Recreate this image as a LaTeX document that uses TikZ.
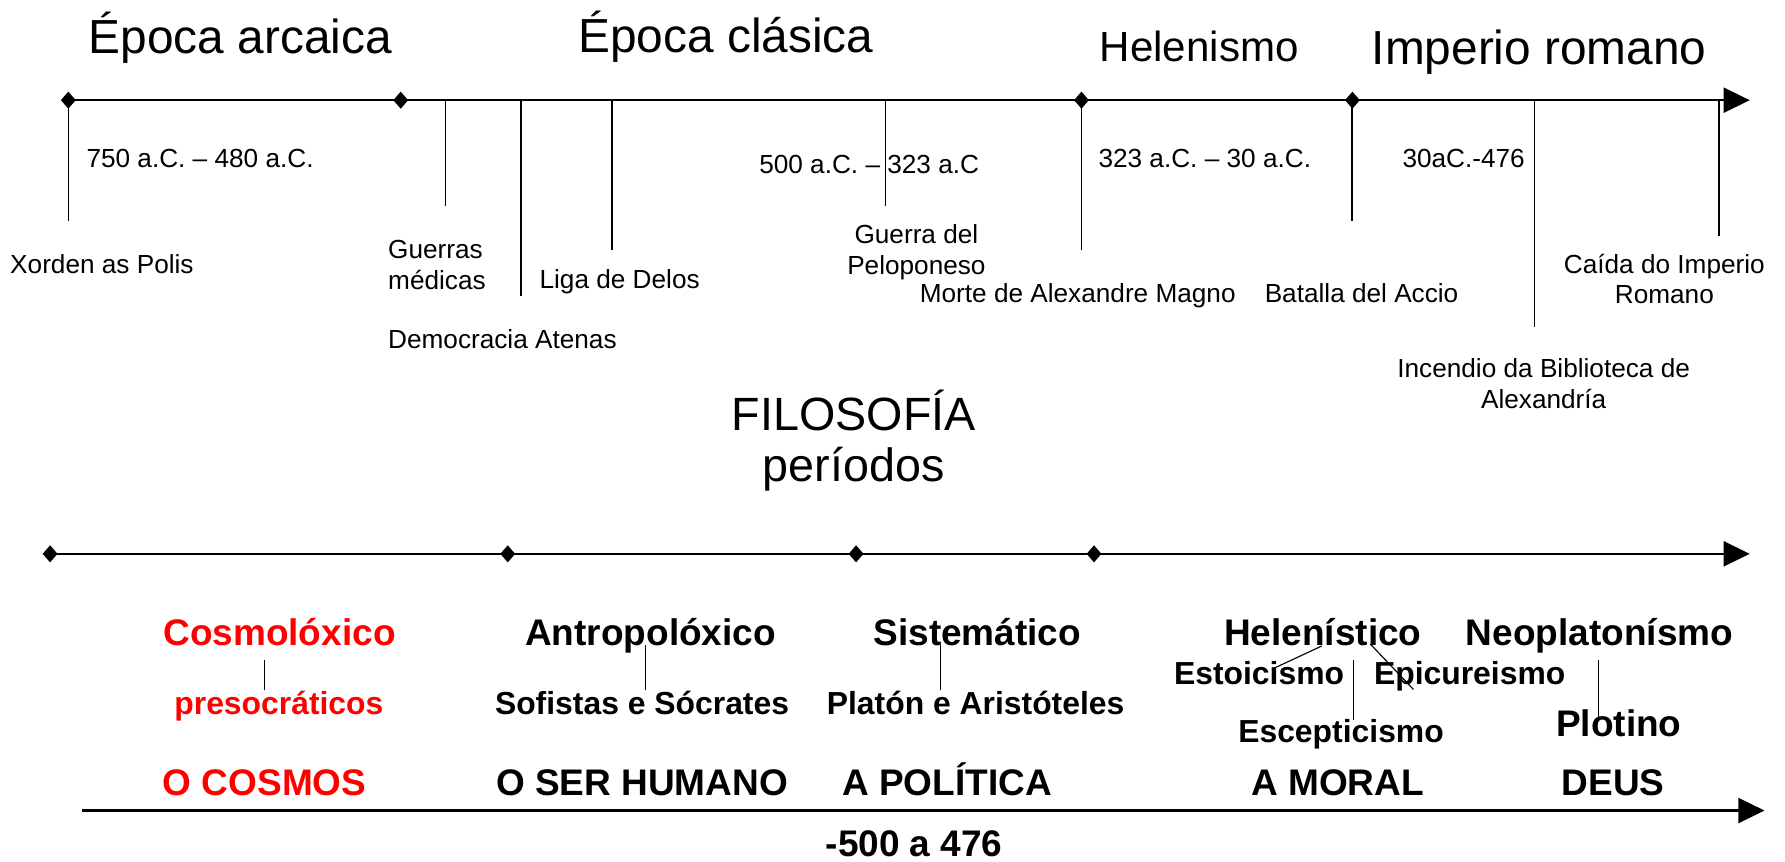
\documentclass[tikz,border=0pt]{standalone}
\usepackage{fontspec}
\setmainfont{Liberation Sans}
\usetikzlibrary{arrows.meta,shapes.geometric}
\definecolor{pred}{RGB}{255,0,0}
\begin{document}
\begin{tikzpicture}[x=1pt,y=-1pt,
  every node/.style={inner sep=0pt,outer sep=0pt},
  ttl/.style={font=\fontsize{42}{48}\selectfont,anchor=base west},
  lbl/.style={font=\fontsize{23}{27}\selectfont,anchor=base west,align=left},
  lblc/.style={font=\fontsize{23}{27}\selectfont,anchor=base,align=center},
  bbig/.style={font=\fontsize{32.5}{38}\selectfont\bfseries,anchor=base},
  bsml/.style={font=\fontsize{28}{33}\selectfont\bfseries,anchor=base},
  axisline/.style={line width=1.9pt,-{Triangle[length=23pt,width=22pt]}},
  tickline/.style={line width=1.4pt},
  conn/.style={line width=1pt},
  dmd/.style={diamond,fill=black,minimum width=13pt,minimum height=15pt,aspect=1}]
\useasboundingbox (0,0) rectangle (1568,757);

% ---------- top timeline ----------
\coordinate (tA) at (60,88);
\coordinate (tZ) at (1537,88);
\draw[axisline] (tA) -- (tZ);
\foreach \n/\x in {d1/60,d2/352,d3/950,d4/1188}
  \node[dmd] (\n) at (\x,88) {};

\foreach \n/\x/\e in {xo/60/194,gm/391.5/181,da/457.7/260,ld/537.5/220,gp/778/181,ma/950/220,ba/1187.5/194,ib/1348/287,ci/1510/207}{
  \coordinate (\n top) at (\x,88);
  \coordinate (\n end) at (\x,\e);
  \draw[tickline] (\n top) -- (\n end);
}

\node[ttl] (arc) at (78,47) {Época arcaica};
\node[ttl] (cla) at (508,46) {Época clásica};
\node[ttl,font=\fontsize{37}{42}\selectfont] (hel) at (966,54) {Helenismo};
\node[ttl] (imp) at (1205,57) {Imperio romano};

\node[lbl] (r1) at (76,147) {750 a.C. – 480 a.C.};
\node[lbl] (r2) at (667,152) {500 a.C. – 323 a.C};
\node[lbl] (r3) at (965,147) {323 a.C. – 30 a.C.};
\node[lbl] (r4) at (1232,147) {30aC.-476};

\node[lbl] (xorden) at (9,240) {Xorden as Polis};
\node[lbl] (guerras) at (341,254) {Guerras\\médicas};
\node[lbl] (liga) at (474,253) {Liga de Delos};
\node[lbl] (demo) at (341,306) {Democracia Atenas};
\node[lblc] (pelop) at (805,241) {Guerra del\\Peloponeso};
\node[lbl] (morte) at (808,266) {Morte de Alexandre Magno};
\node[lbl] (accio) at (1111,266) {Batalla del Accio};
\node[lblc] (caida) at (1462,267) {Caída do Imperio\\Romano};
\node[lblc] (incendio) at (1356,359) {Incendio da Biblioteca de\\Alexandría};

% ---------- title ----------
\node[font=\fontsize{41}{46}\selectfont,anchor=base] (filo) at (750,378) {FILOSOFÍA};
\node[font=\fontsize{41}{46}\selectfont,anchor=base] (per) at (750,423) {períodos};

% ---------- middle timeline ----------
\coordinate (mA) at (44,486.5);
\coordinate (mZ) at (1537,486.5);
\draw[axisline] (mA) -- (mZ);
\foreach \n/\x in {m1/44,m2/446,m3/752,m4/961}
  \node[dmd] (\n) at (\x,486.5) {};

% ---------- bottom labels ----------
\node[bbig,text=pred] (cosmo) at (245.5,567) {Cosmolóxico};
\node[bbig] (antro) at (571.5,567) {Antropolóxico};
\node[bbig] (siste) at (858.5,567) {Sistemático};
\node[bbig] (helen) at (1162,567) {Helenístico};
\node[bbig] (neo) at (1405,567) {Neoplatonísmo};

\node[bsml,text=pred] (preso) at (245,628) {presocráticos};
\node[bsml] (sofi) at (564,628) {Sofistas e Sócrates};
\node[bsml] (plat) at (857,628) {Platón e Aristóteles};
\node[bsml] (esto) at (1106,601.7) {Estoicismo};
\node[bsml] (epic) at (1291,601.7) {Epicureismo};
\node[bsml] (esce) at (1178,652) {Escepticismo};
\node[bbig] (ploti) at (1422,646.6) {Plotino};

\node[bbig,text=pred] (ocos) at (232.5,699) {O COSMOS};
\node[bbig] (oser) at (564,699) {O SER HUMANO};
\node[bbig] (apol) at (832,699) {A POLÍTICA};
\node[bbig] (amor) at (1175,699) {A MORAL};
\node[bbig] (deus) at (1417,699) {DEUS};

\coordinate (bA) at (72,712);
\coordinate (bZ) at (1550,712);
\draw[axisline] (bA) -- (bZ);
\node[bbig] (range) at (803,752) {-500 a 476};

% ---------- small connectors ----------
\coordinate (c1a) at (232,580);   \coordinate (c1b) at (232,606);
\coordinate (c2a) at (567,566.6); \coordinate (c2b) at (567,606);
\coordinate (c3a) at (826,566.6); \coordinate (c3b) at (826,606);
\coordinate (c4a) at (1161,567.5);\coordinate (c4b) at (1117.6,587.7);
\coordinate (c5a) at (1203.7,565.7);\coordinate (c5b) at (1241.6,605.6);
\coordinate (c6a) at (1189,580);  \coordinate (c6b) at (1189,632.5);
\coordinate (c7a) at (1404,580);  \coordinate (c7b) at (1404,632.5);
\foreach \a/\b in {c1a/c1b,c2a/c2b,c3a/c3b,c4a/c4b,c5a/c5b,c6a/c6b,c7a/c7b}
  \draw[conn] (\a) -- (\b);
\end{tikzpicture}
\end{document}
